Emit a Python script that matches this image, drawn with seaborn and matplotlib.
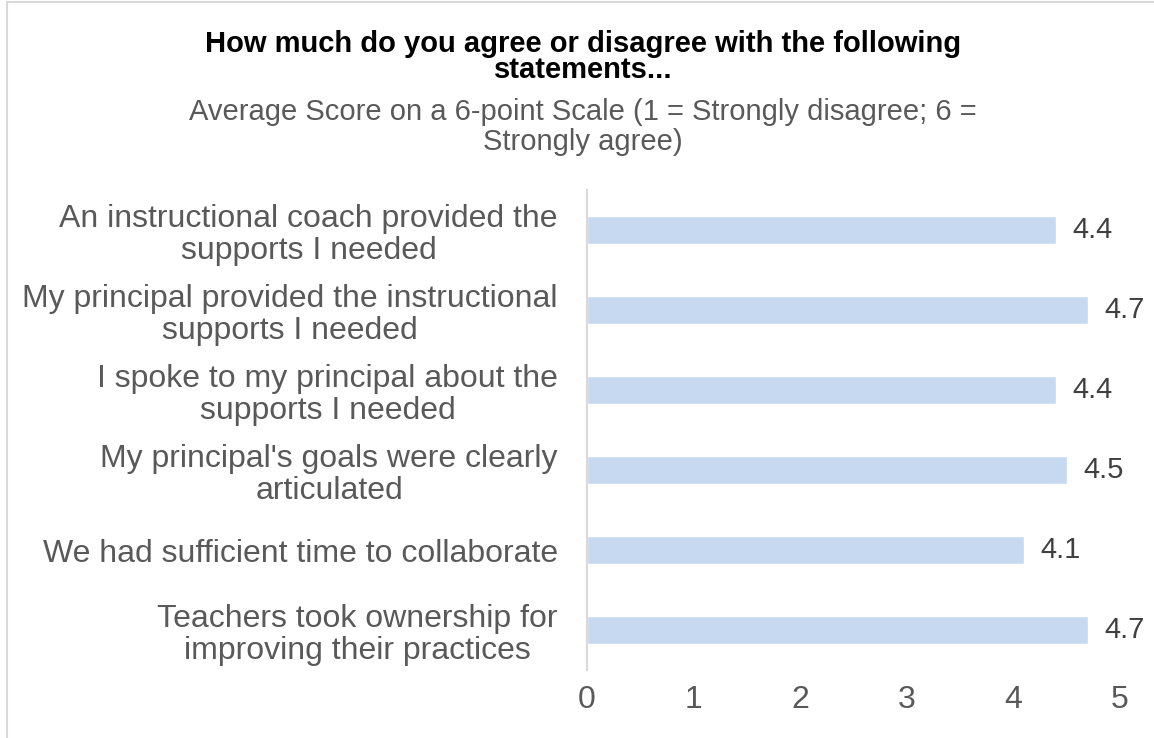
import matplotlib
matplotlib.use("Agg")
import matplotlib.pyplot as plt
import seaborn as sns
import pandas as pd
from matplotlib.patches import Rectangle

categories = [
    "An instructional coach provided the\nsupports I needed",
    "My principal provided the instructional\nsupports I needed",
    "I spoke to my principal about the\nsupports I needed",
    "My principal's goals were clearly\narticulated",
    "We had sufficient time to collaborate",
    "Teachers took ownership for\nimproving their practices",
]
values = [4.4, 4.7, 4.4, 4.5, 4.1, 4.7]
x_ticks = [0, 1, 2, 3, 4, 5]

title = "How much do you agree or disagree with the following\nstatements..."
subtitle = "Average Score on a 6-point Scale (1 = Strongly disagree; 6 =\nStrongly agree)"

sns.set_theme(style="white")
plt.rcParams['font.family'] = ['Liberation Sans', 'DejaVu Sans']

W, H = 1154, 738
fig = plt.figure(figsize=(W / 100, H / 100), dpi=100)
ax = fig.add_axes([587 / W, 1 - 670 / H, (1120 - 587) / W, (670 - 190) / H])

df = pd.DataFrame({"cat": categories, "val": values})
sns.barplot(data=df, y="cat", x="val", orient="h", color="#C6D9F1",
            width=0.35, ax=ax, saturation=1)

ax.set_xlim(0, 5)
ax.set_ylim(5.5, -0.5)
ax.set_xticks(x_ticks)
ax.set_xticklabels([str(t) for t in x_ticks])
ax.set_xlabel("")
ax.set_ylabel("")
for s in ["top", "right", "bottom"]:
    ax.spines[s].set_visible(False)
ax.spines["left"].set_color("#D9D9D9")
ax.spines["left"].set_linewidth(1.5)
ax.tick_params(axis="both", length=0)
ax.tick_params(axis="x", labelsize=23, labelcolor="#595959", pad=11)
ax.tick_params(axis="y", labelsize=23, labelcolor="#595959", pad=21)
for lab in ax.get_yticklabels():
    lab.set_multialignment("center")
    lab.set_linespacing(1.13)

for c in ax.containers:
    ax.bar_label(c, labels=[f"{v:.1f}" for v in values], padding=12,
                 fontsize=21, color="#404040")

fig.text(583 / W, 1 - 57 / H, title, ha="center", va="center",
         fontsize=21, fontweight="bold", color="black", linespacing=0.92)
fig.text(583 / W, 1 - 127 / H, subtitle, ha="center", va="center",
         fontsize=21, color="#595959", linespacing=1.12)

fig.patches.append(Rectangle((7 / W, -0.1), 1.2, 1 - 2 / H + 0.1,
                             transform=fig.transFigure, fill=False,
                             edgecolor="#D9D9D9", linewidth=1.5))

fig.savefig("out.png", dpi=100)
